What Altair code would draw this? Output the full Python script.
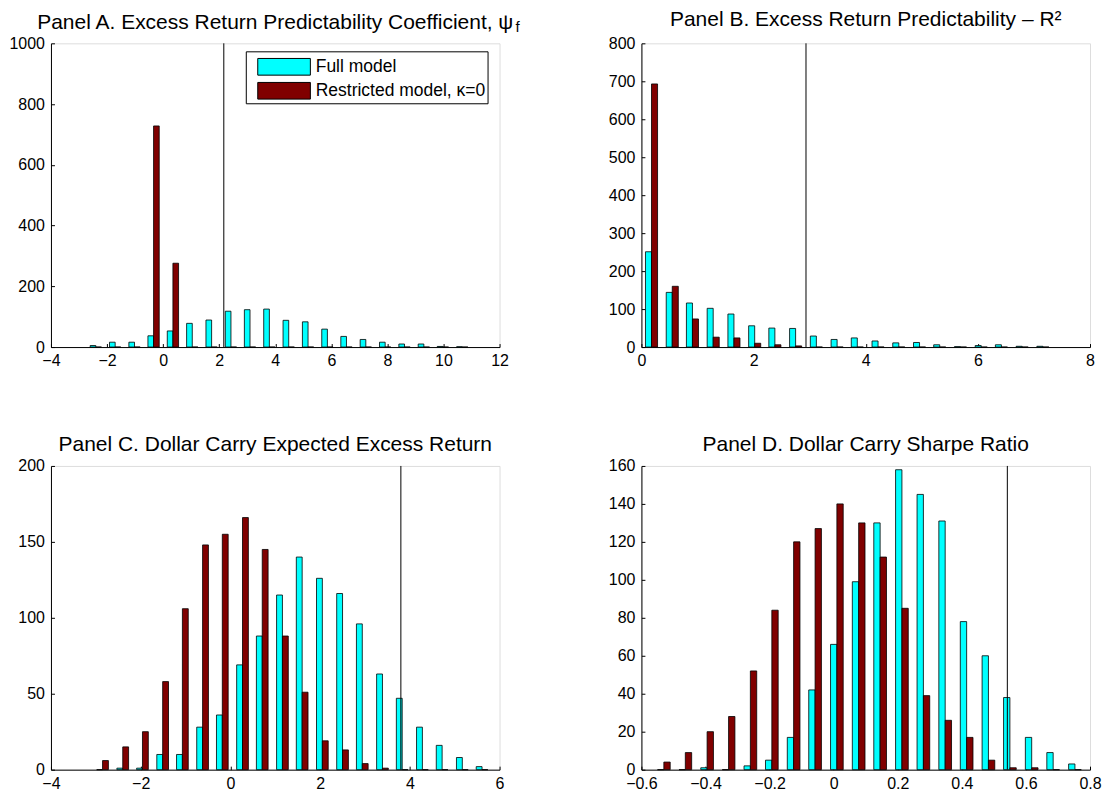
import altair as alt
import pandas as pd

SERIES = ["Full model", "Restricted model, κ=0"]
COLORS = ["#00FFFF", "#800000"]
FONT = "Liberation Sans"

# Panel A: excess return predictability coefficient
A_bins = [-2.40, -1.71, -1.02, -0.34, 0.35, 1.04, 1.73, 2.42, 3.10, 3.79,
          4.48, 5.17, 5.86, 6.54, 7.23, 7.92, 8.61, 9.30, 9.98, 10.67]
A_full = [5, 16, 16, 37, 53, 78, 89, 118, 123, 125, 88, 83, 59, 35, 25, 16, 10, 10, 2, 1]
A_restricted = [0, 0, 0, 728, 276, 0, 0, 0, 0, 0, 0, 0, 0, 0, 0, 0, 0, 0, 0, 0]
A_line = 2.165
A_xticks = [-4, -2, 0, 2, 4, 6, 8, 10, 12]
A_yticks = [0, 200, 400, 600, 800, 1000]

# Panel B: R^2
B_bins = [0.18, 0.55, 0.91, 1.28, 1.65, 2.02, 2.38, 2.75, 3.12, 3.49,
          3.85, 4.22, 4.59, 4.96, 5.32, 5.69, 6.06, 6.42, 6.79, 7.16]
B_full = [251, 144, 116, 102, 87, 56, 50, 49, 29, 20, 24, 16, 11, 12, 6, 1, 4, 6, 2, 2]
B_restricted = [693, 160, 74, 26, 24, 10, 6, 3, 0, 0, 0, 0, 0, 0, 0, 0, 0, 0, 0, 0]
B_line = 2.935
B_xticks = [0, 2, 4, 6, 8]
B_yticks = [0, 100, 200, 300, 400, 500, 600, 700, 800]

# Panel C: dollar carry expected excess return
C_bins = [-2.85, -2.40, -1.96, -1.51, -1.07, -0.62, -0.18, 0.27, 0.71, 1.16,
          1.60, 2.05, 2.50, 2.94, 3.39, 3.83, 4.28, 4.72, 5.17, 5.61]
C_full = [0, 1, 1, 10, 10, 28, 36, 69, 88, 115, 140, 126, 116, 96, 63, 47, 28, 16, 8, 2]
C_restricted = [6, 15, 25, 58, 106, 148, 155, 166, 145, 88, 51, 19, 13, 4, 1, 0, 0, 0, 0, 0]
C_line = 3.80
C_xticks = [-4, -2, 0, 2, 4, 6]
C_yticks = [0, 50, 100, 150, 200]

# Panel D: dollar carry Sharpe ratio
D_bins = [-0.530, -0.463, -0.395, -0.328, -0.260, -0.193, -0.125, -0.058, 0.010, 0.078,
          0.145, 0.213, 0.280, 0.348, 0.415, 0.483, 0.550, 0.618, 0.685, 0.753]
D_full = [0, 0, 1, 0, 2, 5, 17, 42, 66, 99, 130, 158, 145, 131, 78, 60, 38, 17, 9, 3]
D_restricted = [4, 9, 20, 28, 52, 84, 120, 127, 140, 130, 112, 85, 39, 26, 17, 5, 1, 1, 0, 0]
D_line = 0.542
D_xticks = [-0.6, -0.4, -0.2, 0, 0.2, 0.4, 0.6, 0.8]
D_yticks = [0, 20, 40, 60, 80, 100, 120, 140, 160]

W, H = 449, 304


def bar_table(bins, full, restricted):
    rows = []
    for c, f, r in zip(bins, full, restricted):
        rows.append({"center": c, "series": SERIES[0], "side": -1, "count": f})
        rows.append({"center": c, "series": SERIES[1], "side": 1, "count": r})
    return pd.DataFrame(rows)


def axis_x(ticks):
    return alt.Axis(values=ticks, format="~r", title=None, grid=False,
                    domainColor="black", domainWidth=1, tickColor="black",
                    tickSize={"expr": "-3.5"}, labelPadding=9,
                    labelColor="black", labelFont=FONT, labelFontSize=16,
                    labelFlush=False, labelOverlap=False)


def axis_y(ticks):
    return alt.Axis(values=ticks, format="~r", title=None, grid=False,
                    domainColor="black", domainWidth=1, tickColor="black",
                    tickSize={"expr": "-3.5"}, labelPadding=10,
                    labelColor="black", labelFont=FONT, labelFontSize=16,
                    labelFlush=False, labelOverlap=False)


def panel(bins, full, restricted, line, xdom, xticks, ydom, yticks, title,
          toffset, tdy, legend=None):
    df = bar_table(bins, full, restricted)
    step = (bins[-1] - bins[0]) / (len(bins) - 1)
    xs = alt.Scale(domain=xdom, nice=False, zero=False)
    ys = alt.Scale(domain=ydom, nice=False, zero=True)
    bars = (
        alt.Chart(df)
        .transform_calculate(
            xa=f"datum.side < 0 ? datum.center - {0.293 * step} : datum.center",
            xb=f"datum.side < 0 ? datum.center : datum.center + {0.293 * step}",
        )
        .mark_bar(stroke="black", strokeWidth=0.8, opacity=1)
        .encode(
            x=alt.X("xa:Q", scale=xs, axis=axis_x(xticks)),
            x2="xb:Q",
            y=alt.Y("count:Q", scale=ys, axis=axis_y(yticks)),
            y2=alt.datum(0),
            color=alt.Color("series:N", scale=alt.Scale(domain=SERIES, range=COLORS),
                            legend=legend),
        )
    )
    rule = (
        alt.Chart(pd.DataFrame({"v": [line]}))
        .mark_rule(color="black", strokeWidth=1)
        .encode(x=alt.X("v:Q", scale=xs))
    )
    return alt.layer(bars, rule).properties(
        width=W, height=H,
        title=alt.Title(title, fontSize=21, font=FONT, fontWeight="normal",
                        color="black", offset=toffset, dy=tdy, anchor="middle",
                        baseline="alphabetic", frame="group"),
    )


legend_a = alt.Legend(
    title=None, orient="none", legendX=195, legendY=8, direction="vertical",
    symbolType="M-0.27,-0.642L3.78,-0.642L3.78,0.642L-0.27,0.642Z", symbolSize=676,
    symbolStrokeColor="black", symbolStrokeWidth=1, symbolOpacity=1,
    labelFontSize=17.5, labelFont=FONT, labelColor="black", labelOffset=41,
    labelLimit=400, padding=2, rowPadding=-3, strokeColor="black", fillColor="white",
)

pA = panel(A_bins, A_full, A_restricted, A_line, [-4, 12], A_xticks, [0, 1000], A_yticks,
           "Panel A. Excess Return Predictability Coefficient, ψ", 22, 52, legend_a)
sub_f = (
    alt.Chart(pd.DataFrame({"t": ["f"]}))
    .mark_text(font=FONT, fontSize=15, align="left", baseline="alphabetic", color="black")
    .encode(x=alt.value(465), y=alt.value(-11), text="t:N")
)
pA = alt.layer(pA, sub_f)

pB = panel(B_bins, B_full, B_restricted, B_line, [0, 8], B_xticks, [0, 800], B_yticks,
           "Panel B. Excess Return Predictability – R²", 22, 34)
pC = panel(C_bins, C_full, C_restricted, C_line, [-4, 6], C_xticks, [0, 200], C_yticks,
           "Panel C. Dollar Carry Expected Excess Return", 15, 29)
pD = panel(D_bins, D_full, D_restricted, D_line, [-0.6, 0.8], D_xticks, [0, 160], D_yticks,
           "Panel D. Dollar Carry Sharpe Ratio", 15, 29)

chart = (
    alt.concat(pA, pB, pC, pD, columns=2, spacing={"row": 119, "column": 142}, bounds="flush")
    .resolve_scale(color="independent")
    .resolve_legend(color="independent")
    .properties(padding={"left": 0, "top": 0, "right": 0, "bottom": 0})
    .configure_view(stroke=None)
    .configure(background="white")
)

chart.save("out.html", embed_options={"renderer": "svg", "actions": False})
